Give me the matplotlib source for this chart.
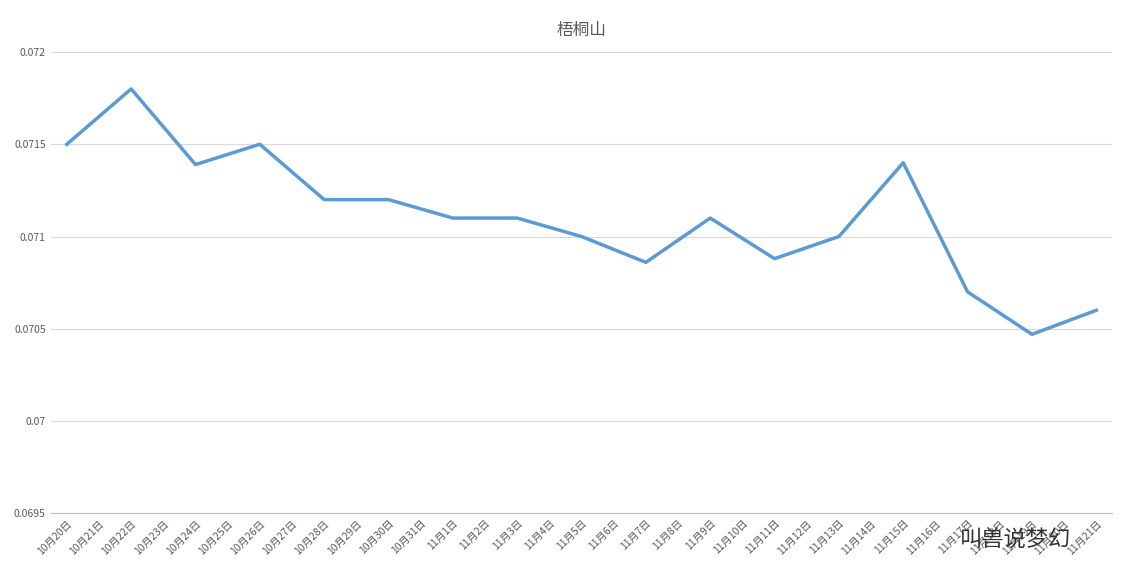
import matplotlib.pyplot as plt
import numpy as np

plt.rcParams['font.family'] = ['Noto Sans CJK SC', 'DejaVu Sans']

dates = [f"10月{d}日" for d in range(20, 32)] + [f"11月{d}日" for d in range(1, 22)]
# values are recorded every other day
point_dates = dates[::2]
values = [0.0715, 0.0718, 0.07139, 0.0715, 0.0712, 0.0712, 0.0711, 0.0711, 0.0710,
          0.07086, 0.0711, 0.07088, 0.0710, 0.0714, 0.0707, 0.07047, 0.0706]
yticks = [0.0695, 0.07, 0.0705, 0.071, 0.0715, 0.072]
ytick_labels = ["0.0695", "0.07", "0.0705", "0.071", "0.0715", "0.072"]

fig = plt.figure(figsize=(11.27, 5.78), dpi=100)
ax = fig.add_axes([0.045, 0.112, 0.942, 0.798])

x = [dates.index(d) for d in point_dates]
ax.plot(x, values, color='#5B9BD5', linewidth=2.5)

ax.set_xlim(-0.5, len(dates) - 0.5)
ax.set_ylim(0.0695, 0.072)
ax.set_yticks(yticks)
ax.set_yticklabels(ytick_labels, fontsize=7.5, color='#595959')
ax.set_xticks(range(len(dates)))
ax.set_xticklabels(dates, rotation=45, ha='right', rotation_mode='anchor',
                   fontsize=7.5, color='#595959')
ax.tick_params(axis='y', length=0)
ax.tick_params(axis='x', length=0)
ax.grid(axis='y', color='#D9D9D9', linewidth=0.8)
ax.set_axisbelow(True)
for s in ['top', 'right', 'left']:
    ax.spines[s].set_visible(False)
ax.spines['bottom'].set_color('#BFBFBF')

ax.set_title("梧桐山", fontsize=12, color='#595959', pad=12)
fig.text(0.95, 0.065, "叫兽说梦幻", fontsize=16, color='#333333', ha='right', va='center')

fig.savefig("out.png")
